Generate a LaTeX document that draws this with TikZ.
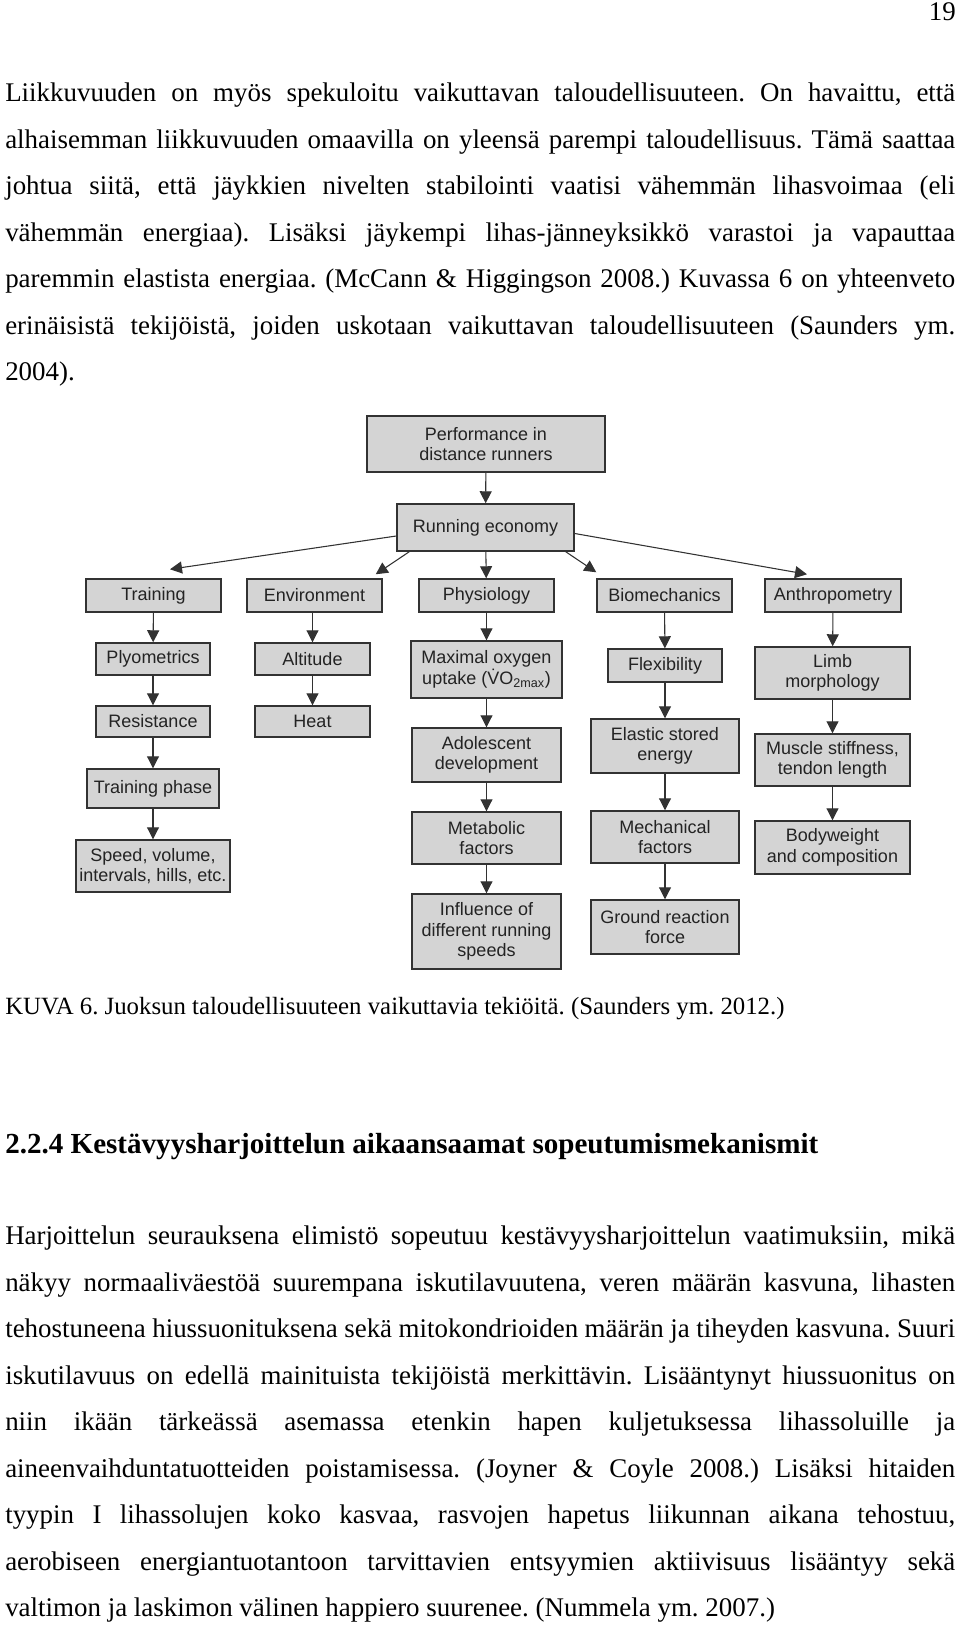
\documentclass[tikz,border=0pt]{standalone}
\usepackage{fontspec}
\setmainfont{Liberation Serif}
\newfontfamily\boxfont{Liberation Sans}
\usetikzlibrary{arrows.meta, calc}

\definecolor{boxfill}{RGB}{212,212,212}
\definecolor{boxline}{RGB}{50,50,50}
\definecolor{boxtext}{RGB}{35,35,35}

\newcommand{\jline}[1]{\makebox[712.5pt][s]{#1}}
\frenchspacing

\tikzset{
  bodytext/.style={anchor=base west, font=\fontsize{20.2}{24}\selectfont},
  factor/.style={draw=boxline, line width=1.1pt, fill=boxfill, text=boxtext, align=center, font=\boxfont\fontsize{13.5}{15.5}\selectfont},
  boxdim/.style 2 args={minimum width=#1*0.75pt, minimum height=#2*0.75pt},
  link/.style={->, draw=boxline, line width=0.8pt}
}

\begin{document}
\begin{tikzpicture}[x=0.75pt, y=-0.75pt, >={Triangle[length=9pt, width=9pt]},
  every node/.style={inner sep=0pt}]
  \useasboundingbox[fill=white] (0,0) rectangle (960,1627);

  % page text
  \node[bodytext, anchor=base east] (pagenum) at (956,21) {19};
  \foreach \txt [count=\i from 0] in {%
    {Liikkuvuuden on myös spekuloitu vaikuttavan taloudellisuuteen. On havaittu, että},
    {alhaisemman liikkuvuuden omaavilla on yleensä parempi taloudellisuus. Tämä saattaa},
    {johtua siitä, että jäykkien nivelten stabilointi vaatisi vähemmän lihasvoimaa (eli},
    {vähemmän energiaa). Lisäksi jäykempi lihas-jänneyksikkö varastoi ja vapauttaa},
    {paremmin elastista energiaa. (McCann \& Higgingson 2008.) Kuvassa 6 on yhteenveto},
    {erinäisistä tekijöistä, joiden uskotaan vaikuttavan taloudellisuuteen (Saunders ym.}}
    \node[bodytext] (pa\i) at (5,{101.7+46.5*\i}) {\jline{\txt}};
  \node[bodytext] (pa6) at (5,380.7) {2004).};

  \node[bodytext, font=\fontsize{18.6}{22}\selectfont] (caption) at (5,1014) {KUVA 6. Juoksun taloudellisuuteen vaikuttavia tekiöitä. (Saunders ym. 2012.)};
  \node[bodytext, font=\fontsize{21.8}{26}\selectfont\bfseries] (heading) at (5,1153) {2.2.4 Kestävyysharjoittelun aikaansaamat sopeutumismekanismit};

  \foreach \txt [count=\i from 0] in {%
    {Harjoittelun seurauksena elimistö sopeutuu kestävyysharjoittelun vaatimuksiin, mikä},
    {näkyy normaaliväestöä suurempana iskutilavuutena, veren määrän kasvuna, lihasten},
    {tehostuneena hiussuonituksena sekä mitokondrioiden määrän ja tiheyden kasvuna. Suuri},
    {iskutilavuus on edellä mainituista tekijöistä merkittävin. Lisääntynyt hiussuonitus on},
    {niin ikään tärkeässä asemassa etenkin hapen kuljetuksessa lihassoluille ja},
    {aineenvaihduntatuotteiden poistamisessa. (Joyner \& Coyle 2008.) Lisäksi hitaiden},
    {tyypin I lihassolujen koko kasvaa, rasvojen hapetus liikunnan aikana tehostuu,},
    {aerobiseen energiantuotantoon tarvittavien entsyymien aktiivisuus lisääntyy sekä}}
    \node[bodytext] (pb\i) at (5,{1244.7+46.5*\i}) {\jline{\txt}};
  \node[bodytext] (pb8) at (5,1616.7) {valtimon ja laskimon välinen happiero suurenee. (Nummela ym. 2007.)};

  % figure: top
  \node[factor, boxdim={238}{56}] (perf) at (486,444) {Performance in\\distance runners};
  \node[factor, boxdim={177}{47}] (economy) at (485.5,527.5) {Running economy};

  % figure: five groups
  \node[factor, boxdim={135}{33}] (training) at (153.5,595.5) {Training};
  \node[factor, boxdim={135}{33}] (environment) at (314.5,595.5) {Environment};
  \node[factor, boxdim={135}{33}] (physiology) at (486.5,595.5) {Physiology};
  \node[factor, boxdim={135}{33}] (biomech) at (664.5,595.5) {Biomechanics};
  \node[factor, boxdim={136}{33}] (anthro) at (833,595.5) {Anthropometry};

  % training column
  \node[factor, boxdim={114}{32}] (plyo) at (153,659) {Plyometrics};
  \node[factor, boxdim={114}{31}] (resist) at (153,721.5) {Resistance};
  \node[factor, boxdim={132}{39}] (phase) at (153,788.5) {Training phase};
  \node[factor, boxdim={154}{52}] (speed) at (153,866) {Speed, volume,\\intervals, hills, etc.};

  % environment column
  \node[factor, boxdim={115}{32}] (altitude) at (312.5,659) {Altitude};
  \node[factor, boxdim={115}{31}] (heat) at (312.5,721.5) {Heat};

  % physiology column
  \node[factor, boxdim={151}{57}] (vomax) at (486.5,669.5) {Maximal oxygen\\uptake (\.{V}O\textsubscript{2max})};
  \node[factor, boxdim={149}{54}] (adolescent) at (486.5,755) {Adolescent\\development};
  \node[factor, boxdim={149}{52}] (metabolic) at (486.5,838) {Metabolic\\factors};
  \node[factor, boxdim={149}{75}] (speeds) at (486.5,931.5) {Influence of\\different running\\speeds};

  % biomechanics column
  \node[factor, boxdim={114}{33}] (flex) at (665,665.5) {Flexibility};
  \node[factor, boxdim={148}{54}] (elastic) at (665,746) {Elastic stored\\energy};
  \node[factor, boxdim={148}{52}] (mechanical) at (665,837) {Mechanical\\factors};
  \node[factor, boxdim={148}{54}] (ground) at (665,927) {Ground reaction\\force};

  % anthropometry column
  \node[factor, boxdim={155}{52}] (limb) at (832.5,673) {Limb\\morphology};
  \node[factor, boxdim={155}{52}] (stiffness) at (832.5,760) {Muscle stiffness,\\tendon length};
  \node[factor, boxdim={155}{53}] (bodyweight) at (832.5,847.5) {Bodyweight\\and composition};

  % connectors
  \draw[link] (perf) -- (economy);
  \draw[link] ($(economy.west)+(0,8.5)$) -- ($(training.north)+(16.5,-9)$);
  \draw[link] ($(economy.south west)+(13,0)$) -- ($(environment.north east)+(-7,-4)$);
  \draw[link] (economy) -- (physiology);
  \draw[link] ($(economy.south east)+(-9,0)$) -- ($(biomech.north west)+(0,-6)$);
  \draw[link] ($(economy.east)+(0,6)$) -- ($(anthro.north)+(-26,-4)$);

  \draw[link] (training) -- (plyo);
  \draw[link] (plyo) -- (resist);
  \draw[link] (resist) -- (phase);
  \draw[link] (phase) -- (speed);

  \draw[link] (environment.south -| altitude) -- (altitude);
  \draw[link] (altitude) -- (heat);

  \draw[link] (physiology) -- (vomax);
  \draw[link] (vomax) -- (adolescent);
  \draw[link] (adolescent) -- (metabolic);
  \draw[link] (metabolic) -- (speeds);

  \draw[link] (biomech) -- (flex);
  \draw[link] (flex) -- (elastic);
  \draw[link] (elastic) -- (mechanical);
  \draw[link] (mechanical) -- (ground);

  \draw[link] (anthro) -- (limb);
  \draw[link] (limb) -- (stiffness);
  \draw[link] (stiffness) -- (bodyweight);
\end{tikzpicture}
\end{document}
